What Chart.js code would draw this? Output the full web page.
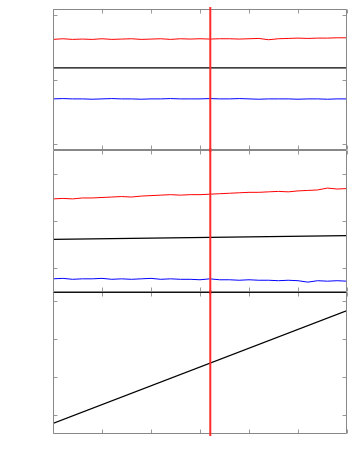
<!DOCTYPE html>
<html>
<head>
<meta charset="utf-8">
<script src="https://cdn.jsdelivr.net/npm/chart.js@4"></script>
<style>
  html, body { margin: 0; padding: 0; background: #fff; }
  #wrap { position: relative; width: 354px; height: 472px; }
  #wrap canvas { position: absolute; left: 0; }
</style>
</head>
<body>
<div id="wrap">
  <canvas id="p1" width="354" height="152" style="top:0px"></canvas>
  <canvas id="p2" width="354" height="146" style="top:148px"></canvas>
  <canvas id="p3" width="354" height="182" style="top:290px"></canvas>
</div>
<script>
// shared x positions and ticks
const xs = [0, 0.2, 0.4, 0.6, 0.8, 1.0, 1.2, 1.4, 1.6, 1.8, 2.0, 2.2, 2.4, 2.6, 2.8, 3.0,
            3.2, 3.4, 3.6, 3.8, 4.0, 4.2, 4.4, 4.6, 4.8, 5.0, 5.2, 5.4, 5.6, 5.8, 6.0];
const xTicks = [0, 1, 2, 3, 4, 5, 6];
const markerX = 3.21;

// panel 1
const p1Red = [0.62, 0.63, 0.62, 0.625, 0.62, 0.63, 0.62, 0.625, 0.63, 0.62, 0.625, 0.63, 0.62, 0.63, 0.625, 0.63,
               0.625, 0.63, 0.63, 0.625, 0.63, 0.635, 0.615, 0.63, 0.635, 0.64, 0.635, 0.64, 0.64, 0.645, 0.645];
const p1Blue = [-0.30, -0.295, -0.30, -0.30, -0.305, -0.30, -0.295, -0.30, -0.30, -0.305, -0.30, -0.30, -0.295, -0.30, -0.30, -0.30,
                -0.295, -0.30, -0.30, -0.295, -0.30, -0.305, -0.30, -0.30, -0.30, -0.305, -0.30, -0.30, -0.305, -0.30, -0.30];
const p1BlackX = [0, 6];
const p1Black = [0.18, 0.18];
const p1Ticks = [-1, 0, 1];

// panel 2
const p2Red = [0.47, 0.48, 0.47, 0.49, 0.49, 0.50, 0.51, 0.52, 0.51, 0.53, 0.54, 0.55, 0.56, 0.55, 0.56, 0.56,
               0.57, 0.58, 0.59, 0.60, 0.61, 0.61, 0.62, 0.63, 0.62, 0.64, 0.65, 0.66, 0.70, 0.68, 0.69];
const p2Blue = [-1.23, -1.22, -1.24, -1.23, -1.23, -1.22, -1.24, -1.23, -1.24, -1.23, -1.22, -1.24, -1.23, -1.24, -1.24, -1.25,
                -1.23, -1.25, -1.25, -1.26, -1.25, -1.26, -1.26, -1.27, -1.26, -1.27, -1.30, -1.27, -1.28, -1.27, -1.28];
const p2BlackX = [0, 6];
const p2Black = [-0.39, -0.31];
const p2Ticks = [-1, 0, 1];

// panel 3
const p3BlackX = [0, 6];
const p3Black = [-0.21, 2.76];
const p3Ticks = [0, 1, 2, 3];

function pts(xv, yv) {
    return yv.map((y, i) => ({x: xv[i], y: y}));
}

// frame, inward ticks on all sides, and the red marker line
const framePlugin = {
    id: 'frame',
    afterDatasetsDraw(chart, args, opts) {
        const ctx = chart.ctx;
        const a = chart.chartArea;
        const xs_ = chart.scales.x, ys_ = chart.scales.y;
        const L = Math.round(a.left) + 0.5, R = Math.round(a.right) - 0.5;
        const T = Math.round(a.top) + 0.5, B = Math.round(a.bottom) - 0.5;
        ctx.save();
        // ticks
        ctx.strokeStyle = '#999';
        ctx.lineWidth = 1;
        ctx.beginPath();
        xTicks.forEach(v => {
            const px = Math.round(xs_.getPixelForValue(v)) + 0.5;
            ctx.moveTo(px, T); ctx.lineTo(px, T + 4);
            ctx.moveTo(px, B); ctx.lineTo(px, B - 4);
        });
        opts.yTicks.forEach(v => {
            const py = Math.round(ys_.getPixelForValue(v)) + 0.5;
            ctx.moveTo(L, py); ctx.lineTo(L + 4, py);
            ctx.moveTo(R, py); ctx.lineTo(R - 4, py);
        });
        ctx.stroke();
        // frame
        ctx.strokeStyle = '#888';
        ctx.beginPath();
        ctx.moveTo(L, T); ctx.lineTo(L, B);
        ctx.moveTo(R, T); ctx.lineTo(R, B);
        ctx.moveTo(L, B); ctx.lineTo(R, B);
        if (!opts.blackTop) { ctx.moveTo(L, T); ctx.lineTo(R, T); }
        ctx.stroke();
        if (opts.blackTop) {
            ctx.strokeStyle = '#111';
            ctx.beginPath();
            ctx.moveTo(L, T); ctx.lineTo(R, T);
            ctx.stroke();
        }
        // red marker
        const mx = xs_.getPixelForValue(markerX);
        ctx.strokeStyle = '#ff2a2a';
        ctx.lineWidth = 2;
        ctx.beginPath();
        ctx.moveTo(mx, a.top - 2); ctx.lineTo(mx, a.bottom + 2);
        ctx.stroke();
        ctx.restore();
    }
};

function makePanel(id, datasets, yMin, yMax, yTicks, padding, blackTop) {
    return new Chart(document.getElementById(id), {
        type: 'line',
        data: { datasets: datasets },
        options: {
            responsive: false,
            animation: false,
            layout: { padding: padding },
            elements: { point: { radius: 0 }, line: { tension: 0 } },
            plugins: {
                legend: { display: false },
                tooltip: { enabled: false },
                frame: { yTicks: yTicks, blackTop: blackTop }
            },
            scales: {
                x: { type: 'linear', min: 0, max: 6, display: false },
                y: { type: 'linear', min: yMin, max: yMax, display: false }
            }
        },
        plugins: [framePlugin]
    });
}

makePanel('p1', [
    { data: pts(xs, p1Red), borderColor: '#ff0000', borderWidth: 1 },
    { data: pts(p1BlackX, p1Black), borderColor: '#000', borderWidth: 1.2 },
    { data: pts(xs, p1Blue), borderColor: '#0000ff', borderWidth: 1 }
], -1.09, 1.09, p1Ticks, {left: 53, right: 7, top: 9, bottom: 2}, false);

makePanel('p2', [
    { data: pts(xs, p2Red), borderColor: '#ff0000', borderWidth: 1 },
    { data: pts(p2BlackX, p2Black), borderColor: '#000', borderWidth: 1.2 },
    { data: pts(xs, p2Blue), borderColor: '#0000ff', borderWidth: 1 }
], -1.51, 1.51, p2Ticks, {left: 53, right: 7, top: 2, bottom: 2}, false);

makePanel('p3', [
    { data: pts(p3BlackX, p3Black), borderColor: '#000', borderWidth: 1.2 }
], -0.49, 3.25, p3Ticks, {left: 53, right: 7, top: 2, bottom: 38}, true);
</script>
</body>
</html>
